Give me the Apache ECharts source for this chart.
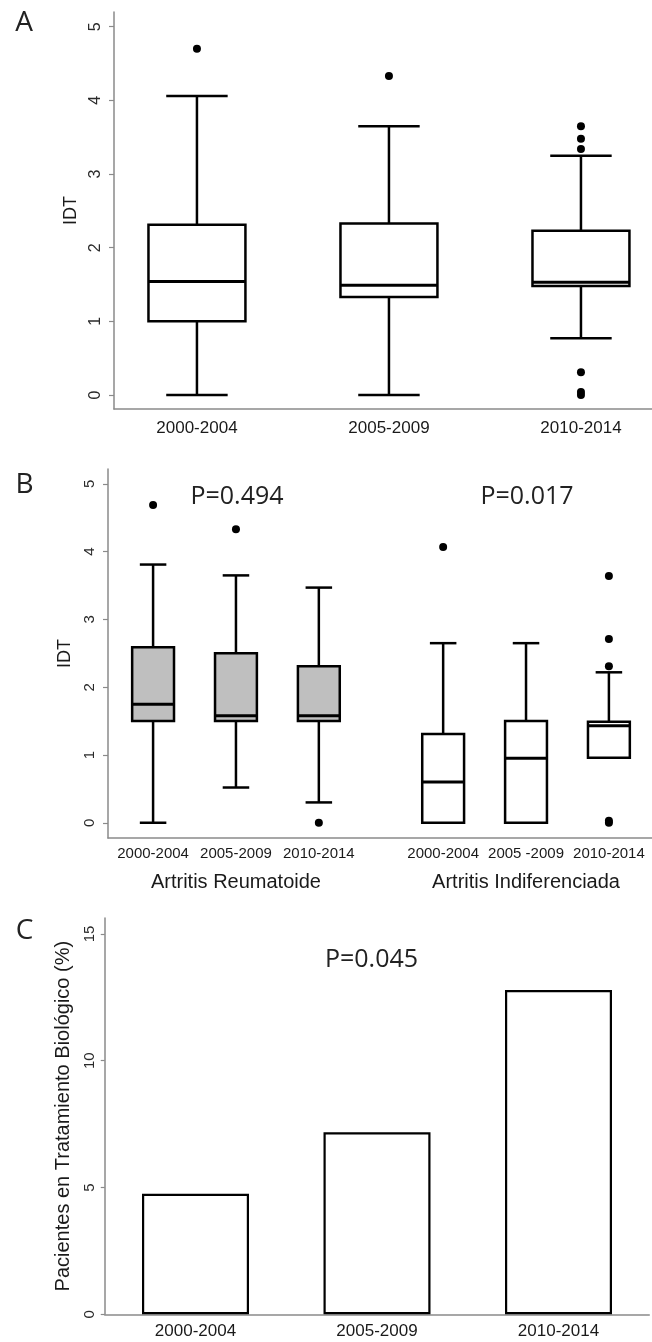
<!DOCTYPE html>
<html><head><meta charset="utf-8">
<script src="https://cdn.jsdelivr.net/npm/echarts@6/dist/echarts.min.js"></script>
<style>html,body{margin:0;padding:0;background:#fff}#c{width:652px;height:1342px}</style>
</head><body><div id="c"></div>
<script>
// ---------- data ----------
const periods = ['2000-2004', '2005-2009', '2010-2014'];
// Panel A (IDT by period)
const aPositions = [1, 2, 3];
const aMin    = [0.00, 0.00, 0.77];
const aQ1     = [1.00, 1.33, 1.48];
const aMedian = [1.54, 1.49, 1.53];
const aQ3     = [2.31, 2.33, 2.23];
const aMax    = [4.06, 3.65, 3.25];
const aOutliers = [[4.70], [4.33], [3.65, 3.48, 3.34, 0.31, 0.04, 0.00]];
// Panel B (IDT by diagnosis and period)
const bLabels = ['2000-2004', '2005-2009', '2010-2014', '2000-2004', '2005 -2009', '2010-2014'];
const bPositions = [1, 2, 3, 4.5, 5.5, 6.5];
const bGroupIndex = [0, 0, 0, 1, 1, 1];
const bGroups = ['Artritis Reumatoide', 'Artritis Indiferenciada'];
const bGroupPositions = [2, 5.5];
const bMin    = [0.00, 0.52, 0.30, 0.00, 0.00, 0.96];
const bQ1     = [1.50, 1.50, 1.50, 0.00, 0.00, 0.96];
const bMedian = [1.75, 1.58, 1.58, 0.60, 0.95, 1.43];
const bQ3     = [2.59, 2.50, 2.31, 1.31, 1.50, 1.49];
const bMax    = [3.81, 3.65, 3.47, 2.65, 2.65, 2.22];
const bOutliers = [[4.69], [4.33], [0.00], [4.07], [], [3.64, 2.71, 2.31, 0.03, 0.00]];
// Panel C (% patients on biologic treatment)
const cValues = [4.75, 7.18, 12.79];
// tick labels
const yTicksAB = [0, 1, 2, 3, 4, 5];
const yTicksC = [0, 5, 10, 15];
const pTexts = ['P=0.494', 'P=0.017', 'P=0.045'];

// ---------- styles ----------
const SANS = '"Liberation Sans", Arial, sans-serif';
const OPEN = '"Open Sans", sans-serif';
const AXIS_GRAY = '#8a8a8a';
const TXT = '#1a1a1a';
const BOX_W = 0.505, CAP_W = 0.32, LW = 2.5;
const B_FILLS = ['#bfbfbf', '#ffffff'];

function boxRenderer(fillFn) {
  return function (params, api) {
    const x = api.value(0);
    const pMin = api.coord([x, api.value(1)]);
    const pQ1 = api.coord([x, api.value(2)]);
    const pMed = api.coord([x, api.value(3)]);
    const pQ3 = api.coord([x, api.value(4)]);
    const pMax = api.coord([x, api.value(5)]);
    const half = api.size([BOX_W, 0])[0] / 2;
    const cap = api.size([CAP_W, 0])[0] / 2;
    const cx = pMin[0];
    const ls = { stroke: '#000', lineWidth: LW, fill: null };
    return {
      type: 'group',
      children: [
        { type: 'line', shape: { x1: cx, y1: pMax[1], x2: cx, y2: pQ3[1] }, style: ls },
        { type: 'line', shape: { x1: cx, y1: pQ1[1], x2: cx, y2: pMin[1] }, style: ls },
        { type: 'line', shape: { x1: cx - cap, y1: pMax[1], x2: cx + cap, y2: pMax[1] }, style: ls },
        { type: 'line', shape: { x1: cx - cap, y1: pMin[1], x2: cx + cap, y2: pMin[1] }, style: ls },
        { type: 'rect', shape: { x: cx - half, y: pQ3[1], width: 2 * half, height: pQ1[1] - pQ3[1] },
          style: { fill: fillFn(params.dataIndex), stroke: '#000', lineWidth: LW } },
        { type: 'line', shape: { x1: cx - half, y1: pMed[1], x2: cx + half, y2: pMed[1] }, style: { stroke: '#000', lineWidth: 3 } }
      ]
    };
  };
}

const aBoxData = aPositions.map((p, i) => [p, aMin[i], aQ1[i], aMedian[i], aQ3[i], aMax[i]]);
const aOutData = [];
aOutliers.forEach((arr, i) => arr.forEach(v => aOutData.push([aPositions[i], v])));
const bBoxData = bPositions.map((p, i) => [p, bMin[i], bQ1[i], bMedian[i], bQ3[i], bMax[i]]);
const bOutData = [];
bOutliers.forEach((arr, i) => arr.forEach(v => bOutData.push([bPositions[i], v])));

function yAxisAB(grid, margin, gap, fs) {
  return {
    type: 'value', gridIndex: grid, min: grid === 0 ? -0.19 : -0.225, max: grid === 0 ? 5.2 : 5.22,
    name: 'IDT', nameLocation: 'middle', nameGap: gap,
    nameTextStyle: { fontFamily: SANS, fontSize: 18, color: TXT },
    axisLine: { show: true, onZero: false, lineStyle: { color: AXIS_GRAY, width: 1.5 } },
    axisTick: { show: true, customValues: yTicksAB, length: 5, lineStyle: { color: AXIS_GRAY, width: 1.2 } },
    axisLabel: { customValues: yTicksAB, rotate: 90, margin: margin, fontFamily: SANS, fontSize: fs, color: '#2a2a2a' },
    splitLine: { show: false }
  };
}

const option = {
  animation: false,
  backgroundColor: '#fff',
  grid: [
    { left: 114, right: 0, top: 12, height: 397 },
    { left: 108, right: 0, top: 469, height: 369 },
    { left: 104.75, right: 2.75, top: 918, height: 396.3 }
  ],
  xAxis: [
    { type: 'value', gridIndex: 0, min: 0.568, max: 3.37,
      axisLine: { show: true, onZero: false, lineStyle: { color: AXIS_GRAY, width: 1.5 } },
      axisTick: { show: false }, splitLine: { show: false },
      axisLabel: { customValues: aPositions, margin: 11, fontFamily: SANS, fontSize: 17, color: TXT,
        formatter: v => periods[aPositions.indexOf(v)] } },
    { type: 'value', gridIndex: 1, min: 0.456, max: 7.02,
      axisLine: { show: true, onZero: false, lineStyle: { color: AXIS_GRAY, width: 1.5 } },
      axisTick: { show: false }, splitLine: { show: false },
      axisLabel: { customValues: bPositions, margin: 8, fontFamily: SANS, fontSize: 15, color: TXT,
        formatter: v => bLabels[bPositions.indexOf(v)] } },
    { type: 'value', gridIndex: 1, min: 0.456, max: 7.02, position: 'bottom',
      axisLine: { show: false }, axisTick: { show: false }, splitLine: { show: false },
      axisLabel: { customValues: bGroupPositions, margin: 34, fontFamily: SANS, fontSize: 20, color: TXT,
        formatter: v => bGroups[bGroupPositions.indexOf(v)] } },
    { type: 'category', gridIndex: 2, data: periods,
      axisLine: { show: true, onZero: false, lineStyle: { color: AXIS_GRAY, width: 1.5 } },
      axisTick: { show: false },
      axisLabel: { margin: 9, fontFamily: SANS, fontSize: 17, color: TXT } }
  ],
  yAxis: [
    yAxisAB(0, 10, 32, 16),
    yAxisAB(1, 11, 32, 15),
    { type: 'value', gridIndex: 2, min: 0, max: 15.63,
      name: 'Pacientes en Tratamiento Biológico (%)', nameLocation: 'middle', nameGap: 31,
      nameTextStyle: { fontFamily: SANS, fontSize: 20, color: TXT },
      axisLine: { show: true, onZero: false, lineStyle: { color: AXIS_GRAY, width: 1.5 } },
      axisTick: { show: true, customValues: yTicksC, length: 4, lineStyle: { color: AXIS_GRAY, width: 1.2 } },
      axisLabel: { customValues: yTicksC, rotate: 90, margin: 7, fontFamily: SANS, fontSize: 15, color: '#2a2a2a' },
      splitLine: { show: false } }
  ],
  series: [
    { type: 'custom', xAxisIndex: 0, yAxisIndex: 0, data: aBoxData, encode: { x: 0, y: [1, 2, 3, 4, 5] },
      renderItem: boxRenderer(() => '#fff'), clip: false },
    { type: 'scatter', xAxisIndex: 0, yAxisIndex: 0, data: aOutData, symbol: 'circle', symbolSize: 8,
      itemStyle: { color: '#000', opacity: 1 } },
    { type: 'custom', xAxisIndex: 1, yAxisIndex: 1, data: bBoxData, encode: { x: 0, y: [1, 2, 3, 4, 5] },
      renderItem: boxRenderer(i => B_FILLS[bGroupIndex[i]]), clip: false },
    { type: 'scatter', xAxisIndex: 1, yAxisIndex: 1, data: bOutData, symbol: 'circle', symbolSize: 8,
      itemStyle: { color: '#000', opacity: 1 } },
    { type: 'bar', xAxisIndex: 3, yAxisIndex: 2, data: cValues, barWidth: 107,
      itemStyle: { color: '#fff', borderColor: '#000', borderWidth: 2.2 } }
  ],
  graphic: [
    { type: 'text', x: 24, y: 23, style: { text: 'A', fontFamily: OPEN, fontSize: 28, fill: '#222', align: 'center', verticalAlign: 'middle' } },
    { type: 'text', x: 24.5, y: 485, style: { text: 'B', fontFamily: OPEN, fontSize: 28, fill: '#222', align: 'center', verticalAlign: 'middle' } },
    { type: 'text', x: 24.5, y: 931, style: { text: 'C', fontFamily: OPEN, fontSize: 28, fill: '#222', align: 'center', verticalAlign: 'middle' } },
    { type: 'text', x: 237, y: 497, style: { text: pTexts[0], fontFamily: OPEN, fontSize: 25, fill: '#222', align: 'center', verticalAlign: 'middle' } },
    { type: 'text', x: 527, y: 497, style: { text: pTexts[1], fontFamily: OPEN, fontSize: 25, fill: '#222', align: 'center', verticalAlign: 'middle' } },
    { type: 'text', x: 371.5, y: 960, style: { text: pTexts[2], fontFamily: OPEN, fontSize: 25, fill: '#222', align: 'center', verticalAlign: 'middle' } }
  ]
};
const chart = echarts.init(document.getElementById('c'), null, { renderer: 'canvas' });
chart.setOption(option);
</script></body></html>
